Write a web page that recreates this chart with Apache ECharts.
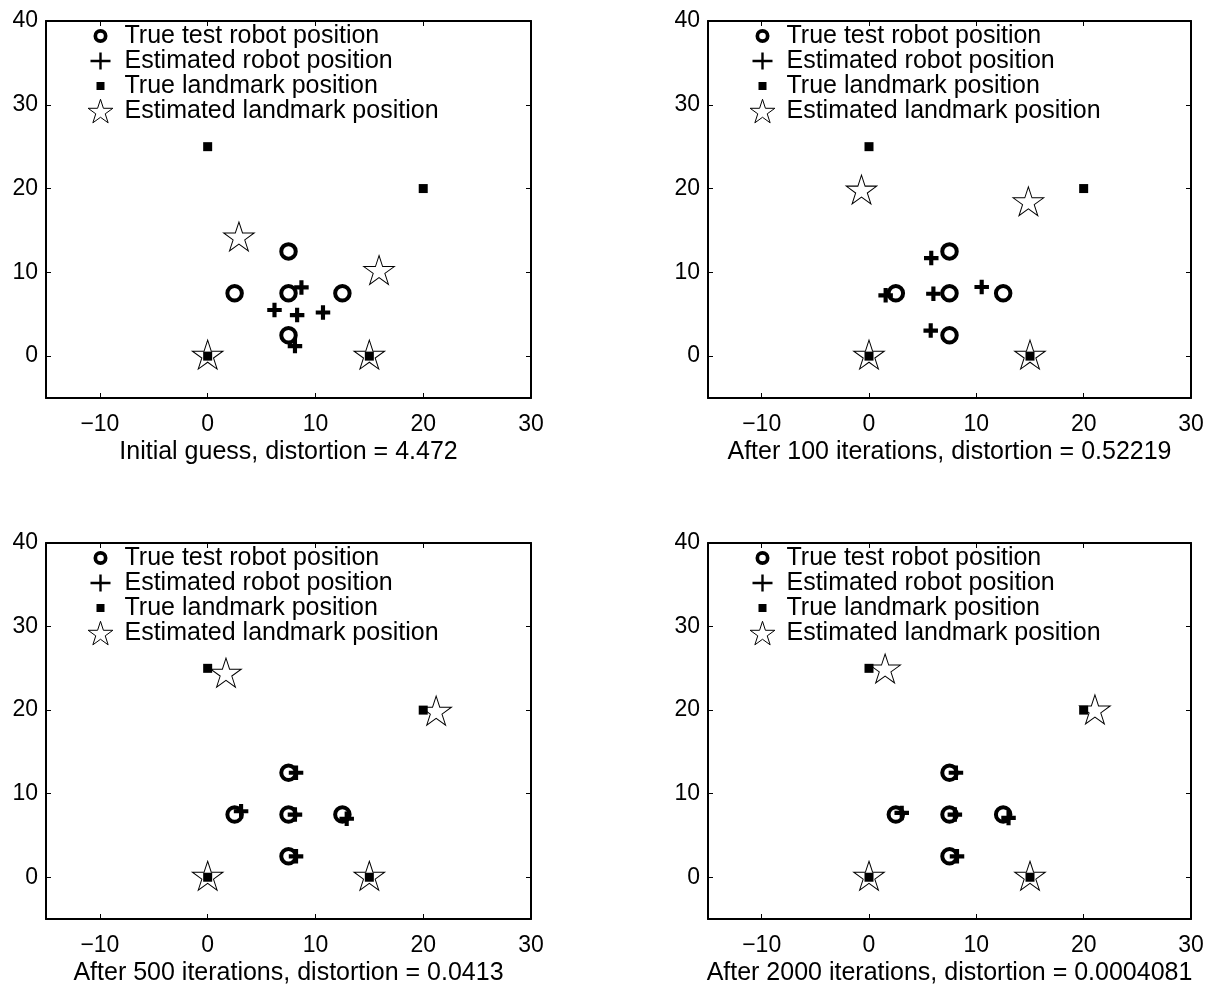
<!DOCTYPE html>
<html>
<head>
<meta charset="utf-8">
<script src="https://cdn.jsdelivr.net/npm/echarts@6/dist/echarts.min.js"></script>
<style>
  html, body { margin: 0; padding: 0; background: #fff; }
  #main { width: 1216px; height: 989px; }
</style>
</head>
<body>
<div id="main"></div>
<script>
// true positions, the same in every panel
var trueRobotX = [7.5, 2.5, 7.5, 12.5, 7.5];
var trueRobotY = [12.5, 7.5, 7.5, 7.5, 2.5];
var trueLandmarkX = [0, 15, 0, 20];
var trueLandmarkY = [0, 0, 25, 20];

// estimated robot positions, one row per panel
var estRobotX = [
  [8.7, 6.2, 8.3, 10.7, 8.1],
  [5.8, 1.55, 6.0, 10.5, 5.75],
  [8.2, 3.1, 8.1, 12.9, 8.2],
  [8.1, 3.05, 8.0, 13.0, 8.2]
];
var estRobotY = [
  [8.2, 5.5, 4.9, 5.2, 1.2],
  [11.7, 7.25, 7.45, 8.25, 3.05],
  [12.5, 7.9, 7.5, 7.0, 2.5],
  [12.5, 7.7, 7.5, 7.1, 2.5]
];

// estimated landmark positions, one row per panel
var estLandmarkX = [
  [0, 15, 2.9, 15.9],
  [0, 15, -0.7, 14.85],
  [0, 15, 1.7, 21.2],
  [0, 15, 1.5, 21.05]
];
var estLandmarkY = [
  [0, 0, 14.1, 10.1],
  [0, 0, 19.7, 18.3],
  [0, 0, 24.3, 19.75],
  [0, 0, 24.8, 19.9]
];

var panelTitles = [
  "Initial guess, distortion = 4.472",
  "After 100 iterations, distortion = 0.52219",
  "After 500 iterations, distortion = 0.0413",
  "After 2000 iterations, distortion = 0.0004081"
];
var xTicks = [-10, 0, 10, 20, 30];
var yTicks = [0, 10, 20, 30, 40];

var seriesNames = [
  "True test robot position",
  "Estimated robot position",
  "True landmark position",
  "Estimated landmark position"
];

var FONT = "Liberation Sans, Arial, Helvetica, sans-serif";

// panel boxes in pixels
var grids = [
  { left: 46, top: 21, width: 485, height: 377 },
  { left: 708, top: 21, width: 483, height: 377 },
  { left: 46, top: 543, width: 485, height: 376 },
  { left: 708, top: 543, width: 483, height: 376 }
];

// marker shapes
var plusPath = "path://M5,0H9V5H14V9H9V14H5V9H0V5H5Z";
var starPath =
  "path://M0,-10L2.245,-3.09L9.511,-3.09L3.633,1.18L5.878,8.09L0,3.82L-5.878,8.09L-3.633,1.18L-9.511,-3.09L-2.245,-3.09ZM0,10";

// legend icons drawn inside a 38x25 box (the ring is a filled annulus)
var legendIcons = [
  "path://M0,0M38,25M26,12.5A7,7 0 1 1 12,12.5A7,7 0 1 1 26,12.5ZM22.3,12.5A3.3,3.3 0 1 0 15.7,12.5A3.3,3.3 0 1 0 22.3,12.5Z",
  "path://M0,0M38,25M17.8,4H20.2V11.3H29V13.7H20.2V21H17.8V13.7H9V11.3H17.8Z",
  "path://M0,0M38,25M15,8.5H23V16.5H15Z",
  "path://M0,0M38,25M19,0.3L21.918,9.283L31.364,9.283L23.723,14.834L26.641,23.817L19,18.266L11.359,23.817L14.277,14.834L6.636,9.283L16.082,9.283Z"
];
var legendStyles = [
  { color: "#000", borderColor: "#000", borderWidth: 0 },
  { color: "#000", borderColor: "#000", borderWidth: 0 },
  { color: "#000", borderColor: "#000", borderWidth: 0 },
  { color: "rgba(0,0,0,0)", borderColor: "#000", borderWidth: 1 }
];

function pairs(xs, ys) {
  return xs.map(function (x, i) {
    return [x, ys[i]];
  });
}

function minusLabel(v) {
  return v < 0 ? "\u2212" + Math.abs(v) : String(v);
}

var myChart = echarts.init(document.getElementById("main"), null, {
  renderer: "canvas",
});

var xAxes = [];
var yAxes = [];
var legends = [];
var series = [];

grids.forEach(function (g, i) {
  var lineStyle = { color: "#000", width: 2 };
  var tickStyle = { color: "#000", width: 1 };
  // bottom x axis with labels and the panel caption
  xAxes.push({
    gridIndex: i,
    type: "value",
    position: "bottom",
    min: -15,
    max: 30,
    name: panelTitles[i],
    nameLocation: "middle",
    nameGap: 42,
    nameTextStyle: { fontFamily: FONT, fontSize: 25, color: "#000" },
    axisLine: { show: true, onZero: false, lineStyle: lineStyle },
    axisTick: { show: true, inside: true, length: 5, customValues: xTicks, lineStyle: tickStyle },
    axisLabel: { customValues: xTicks, formatter: minusLabel, margin: 15, fontFamily: FONT, fontSize: 23, color: "#000" },
    splitLine: { show: false },
  });
  // top x axis, ticks only
  xAxes.push({
    gridIndex: i,
    type: "value",
    position: "top",
    min: -15,
    max: 30,
    axisLine: { show: true, onZero: false, lineStyle: lineStyle },
    axisTick: { show: true, inside: true, length: 5, customValues: xTicks, lineStyle: tickStyle },
    axisLabel: { show: false },
    splitLine: { show: false },
  });
  yAxes.push({
    gridIndex: i,
    type: "value",
    position: "left",
    min: -5,
    max: 40,
    axisLine: { show: true, onZero: false, lineStyle: lineStyle },
    axisTick: { show: true, inside: true, length: 5, customValues: yTicks, lineStyle: tickStyle },
    axisLabel: { customValues: yTicks, margin: 8, fontFamily: FONT, fontSize: 23, color: "#000" },
    splitLine: { show: false },
  });
  yAxes.push({
    gridIndex: i,
    type: "value",
    position: "right",
    min: -5,
    max: 40,
    axisLine: { show: true, onZero: false, lineStyle: lineStyle },
    axisTick: { show: true, inside: true, length: 5, customValues: yTicks, lineStyle: tickStyle },
    axisLabel: { show: false },
    splitLine: { show: false },
  });

  legends.push({
    orient: "vertical",
    left: g.left + 35,
    top: g.top + 2.5,
    padding: 0,
    itemGap: 0,
    itemWidth: 38,
    itemHeight: 25,
    selectedMode: false,
    textStyle: { fontFamily: FONT, fontSize: 25, lineHeight: 25, color: "#000" },
    data: seriesNames.map(function (n, k) {
      return { name: n, icon: legendIcons[k], itemStyle: legendStyles[k] };
    }),
  });

  var base = { type: "scatter", xAxisIndex: i * 2, yAxisIndex: i * 2, silent: true, animation: false };
  series.push(
    Object.assign({}, base, {
      name: seriesNames[0],
      data: pairs(trueRobotX, trueRobotY),
      symbol: "circle",
      symbolSize: 14.5,
      itemStyle: { color: "rgba(0,0,0,0)", borderColor: "#000", borderWidth: 4, opacity: 1 },
    }),
    Object.assign({}, base, {
      name: seriesNames[1],
      data: pairs(estRobotX[i], estRobotY[i]),
      symbol: plusPath,
      symbolSize: 14.5,
      itemStyle: { color: "#000", opacity: 1 },
    }),
    Object.assign({}, base, {
      name: seriesNames[2],
      data: pairs(trueLandmarkX, trueLandmarkY),
      symbol: "rect",
      symbolSize: 9,
      itemStyle: { color: "#000", opacity: 1 },
    }),
    Object.assign({}, base, {
      name: seriesNames[3],
      data: pairs(estLandmarkX[i], estLandmarkY[i]),
      symbol: starPath,
      symbolSize: [30.5, 32],
      itemStyle: { color: "rgba(0,0,0,0)", borderColor: "#000", borderWidth: 1, opacity: 1 },
    })
  );
});

var option = {
  backgroundColor: "#fff",
  animation: false,
  grid: grids,
  xAxis: xAxes,
  yAxis: yAxes,
  legend: legends,
  series: series,
};

myChart.setOption(option);
</script>
</body>
</html>
